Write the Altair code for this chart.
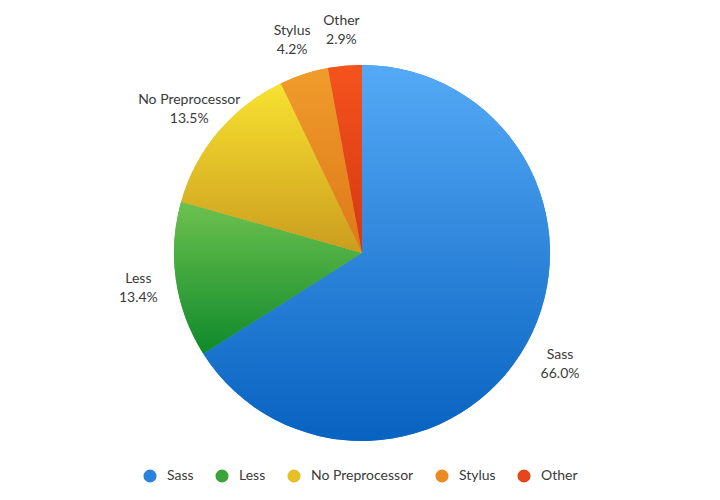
import altair as alt
import pandas as pd

categories = ["Sass", "Less", "No Preprocessor", "Stylus", "Other"]
shares = [66.0, 13.4, 13.5, 4.2, 2.9]
flat_colors = ["#2a82de", "#3aa43a", "#e4c026", "#ea8a22", "#e6461a"]
grad_top = ["#55aaf6", "#6dc14e", "#f8e230", "#f09c2c", "#f5531d"]
grad_bottom = ["#0862c0", "#0f8a2b", "#cb9c1f", "#dd7818", "#d43712"]

labels = [f"{c}\n{v:.1f}%" for c, v in zip(categories, shares)]
df = pd.DataFrame({
    "category": categories,
    "share": shares,
    "order": list(range(len(categories))),
    "label": labels,
})

CX, CY, R, RL = 354, 245, 188, 226
FONT = "Lato"

base = alt.Chart(df).transform_window(
    cum="sum(share)", sort=[alt.SortField("order")], frame=[None, 0]
).transform_calculate(
    start="datum.cum - datum.share",
    mid="datum.cum - datum.share / 2",
)

theta_scale = alt.Scale(domain=[0, 100])

flat = base.mark_arc(outerRadius=R).encode(
    theta=alt.Theta("start:Q", scale=theta_scale),
    theta2="cum:Q",
    color=alt.Color(
        "category:N",
        scale=alt.Scale(domain=categories, range=flat_colors),
        legend=alt.Legend(
            title=None,
            orient="none",
            legendX=135,
            legendY=461,
            direction="horizontal",
            symbolType="circle",
            symbolSize=170,
            symbolStrokeWidth=0,
            labelFont=FONT,
            labelFontSize=14,
            labelFontWeight=400,
            labelColor="#3a3a3a",
            labelOffset=10,
            columnPadding=21,
            padding=0,
        ),
    ),
    x=alt.value(CX),
    y=alt.value(CY),
)

layers = [flat]
for cat, top, bot in zip(categories, grad_top, grad_bottom):
    g = alt.Gradient(
        gradient="linear",
        stops=[alt.GradientStop(color=top, offset=0), alt.GradientStop(color=bot, offset=1)],
        x1=0, x2=0, y1=0, y2=1,
    )
    layers.append(
        base.transform_filter(alt.datum.category == cat)
        .mark_arc(outerRadius=R, fill=g)
        .encode(
            theta=alt.Theta("start:Q", scale=theta_scale),
            theta2="cum:Q",
            x=alt.value(CX),
            y=alt.value(CY),
        )
    )

text = base.mark_text(
    radius=RL, lineBreak="\n", lineHeight=19, font=FONT, fontSize=14,
    fontWeight=400, color="#3a3a3a", align="center", baseline="middle", dy=-7,
).encode(
    theta=alt.Theta("mid:Q", scale=theta_scale),
    text="label:N",
    x=alt.value(CX),
    y=alt.value(CY),
)
layers.append(text)

chart = alt.layer(*layers).properties(
    width=704, height=484, autosize=alt.AutoSizeParams(type="none"), padding=0,
    background="white",
).configure_view(stroke=None)

chart.save("out.html", embed_options={"renderer": "svg", "actions": False})
